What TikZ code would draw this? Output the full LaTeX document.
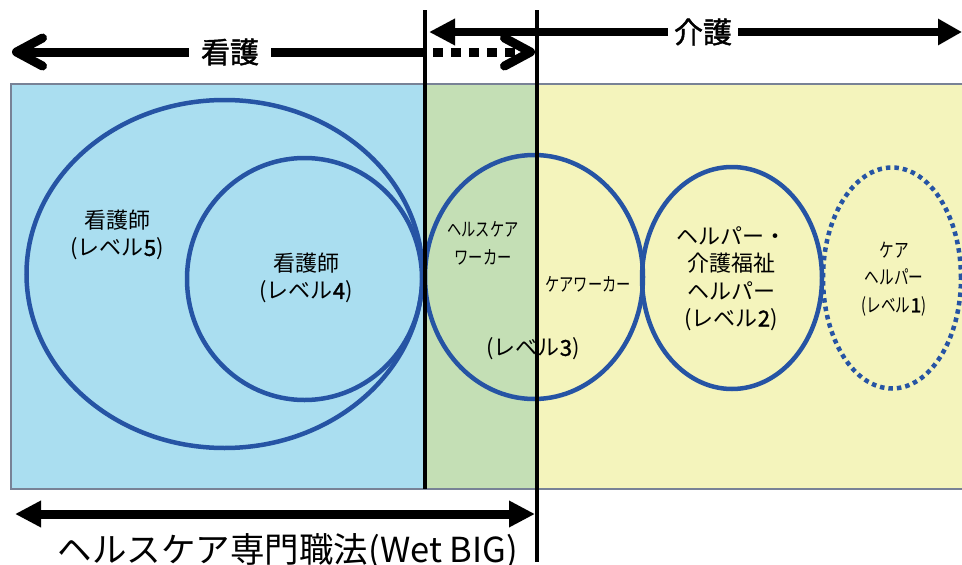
\documentclass[tikz,border=0pt]{standalone}
\usepackage{fontspec}
\newfontfamily\jp{Noto Sans CJK JP}
\newfontfamily\jpn[FakeStretch=0.75]{Noto Sans CJK JP}
\newfontfamily\jpb[FakeBold=1.5]{Noto Sans CJK JP}
\usetikzlibrary{positioning}
\usetikzlibrary{shapes.geometric}
\usetikzlibrary{arrows.meta}
\definecolor{nursefill}{RGB}{170,222,240}
\definecolor{bothfill}{RGB}{196,223,181}
\definecolor{carefill}{RGB}{244,244,188}
\definecolor{ringblue}{RGB}{38,84,164}
\definecolor{framegray}{RGB}{120,130,150}
\tikzset{
  ring/.style={ellipse, draw=ringblue, line width=4.5pt, inner sep=0pt},
  dotring/.style={ring, dash pattern=on 4.5pt off 4pt},
  txt/.style={font=\jp\fontsize{22}{27.5}\selectfont, align=center, inner sep=0pt},
  ntxt/.style={font=\jpn\fontsize{19}{28}\selectfont, align=center, inner sep=0pt},
  head/.style={font=\jpb\fontsize{29}{32}\selectfont, inner sep=0pt},
  bar/.style={line width=9pt},
  divider/.style={line width=3.5pt},
  chev/.tip={Straight Barb[length=26pt,width=28pt,round]},
  tri/.tip={Triangle[length=26pt,width=25pt]},
}

\begin{document}
\begin{tikzpicture}[x=1pt,y=-1pt]
            \useasboundingbox (0,0) rectangle (962,565);

            % areas
            \fill[nursefill] (11,84) rectangle (425,489);
            \fill[bothfill]  (425,84) rectangle (537,489);
            \fill[carefill]  (537,84) rectangle (966,489);
            \draw[framegray, line width=1.5pt] (11,84) rectangle (966,489);

            % levels
            \node (lv5) [ring, minimum width=396pt, minimum height=348pt] at (224.5,274) {};
            \node (lv4) [ring, minimum width=235pt, minimum height=242pt] at (304.5,279) {};
            \node (lv3) [ring, minimum width=218pt, minimum height=244pt] at (534,277) {};
            \node (lv2) [ring, minimum width=180pt, minimum height=222pt] at (732,278) {};
            \node (lv1) [dotring, minimum width=138pt, minimum height=221pt] at (892,278) {};

            \node (lv5txt) [txt] at (117,235) {看護師\\(レベル{\jpb 5})};
            \node (lv4txt) [txt] at (306,278) {看護師\\(レベル{\jpb 4})};
            \node (hcw)    [ntxt] at (483,243) {ヘルスケア\\ワーカー};
            \node (cw)     [ntxt] at (588,284) {ケアワーカー};
            \node (lv3txt) [txt] at (533,349) {(レベル{\jpb 3})};
            \node (lv2txt) [txt] at (731,278.5) {ヘルパー・\\介護福祉\\ヘルパー\\(レベル{\jpb 2})};
            \node (lv1txt) [ntxt, font=\jpn\fontsize{19.5}{27.5}\selectfont] at (894,279) {ケア\\ヘルパー\\(レベル{\jpb 1})};

            % dividers
            \coordinate (d1t) at (425,10);
            \coordinate (d1b) at (425,489);
            \coordinate (d2t) at (537,10);
            \coordinate (d2b) at (537,562);
            \draw[divider] (d1t) -- (d1b);
            \draw[divider] (d2t) -- (d2b);

            % kango
            \coordinate (kL) at (12,52);
            \coordinate (kM) at (425,52);
            \coordinate (kR) at (535,52);
            \node (kango) [head, inner xsep=12pt] at (230,52) {看護};
            \draw[bar, -chev] (kango.west) -- (kL);
            \draw[bar] (kango.east) -- (kM);
            \draw[bar, dash pattern=on 10pt off 8pt, dash phase=10pt, -chev] (kM) -- (kR);

            % kaigo
            \coordinate (gL) at (429,32);
            \coordinate (gR) at (962,32);
            \node (kaigo) [head, inner xsep=6pt] at (703,32) {介護};
            \draw[bar, line width=8pt, -tri] (kaigo.west) -- (gL);
            \draw[bar, line width=8pt, -{Triangle[length=24pt,width=25pt]}] (kaigo.east) -- (gR);

            % wet big
            \coordinate (wL) at (15,514);
            \coordinate (wR) at (535,514);
            \draw[bar, tri-tri] (wL) -- (wR);
            \node (wetbig) [font=\jp\fontsize{34.5}{38}\selectfont, inner sep=0pt] at (288,551) {ヘルスケア専門職法(Wet BIG)};
        \end{tikzpicture}
\end{document}
